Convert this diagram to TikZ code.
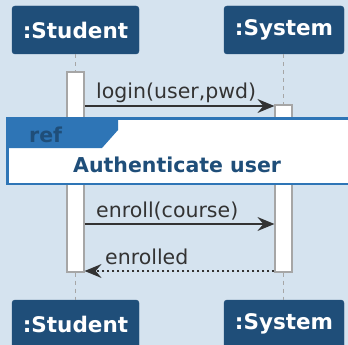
\documentclass[tikz,border=0pt]{standalone}
\usepackage{fontspec}
\setmainfont{DejaVu Sans}
\usetikzlibrary{arrows.meta}
\definecolor{bg}{HTML}{D5E3EF}
\definecolor{hdr}{HTML}{1F4E79}
\definecolor{tab}{HTML}{2E75B6}
\definecolor{msg}{HTML}{333333}
\tikzset{
  hdrbox/.style={fill=hdr, draw=hdr, rounded corners=3pt, minimum width=127pt, minimum height=48pt, inner sep=0pt, text=white, font=\fontsize{21.5}{25}\selectfont\bfseries},
  actbox/.style={fill=white, draw=gray!70, line width=1.2pt, minimum width=17pt, inner sep=0pt},
  life/.style={draw=gray!70, dashed, dash pattern=on 4pt off 4pt, line width=0.8pt},
  msgline/.style={draw=msg, line width=1.5pt, -{Stealth[length=17pt,width=14pt,inset=6pt]}},
  retline/.style={msgline, dash pattern=on 2.5pt off 2.5pt},
  msglbl/.style={text=msg, font=\fontsize{20.5}{24}\selectfont, inner sep=0pt, anchor=base west}
}
\begin{document}
\begin{tikzpicture}[x=1pt,y=-1pt]
\fill[bg] (0,0) rectangle (348,345);
\useasboundingbox (0,0) rectangle (348,345);
% headers
\node[hdrbox] (st) at (75.5,30) {:Student};
\node[hdrbox, minimum width=120pt] (sy) at (284,30) {:System};
\node[hdrbox] (sb) at (75.5,324) {:Student};
\node[hdrbox, minimum width=120pt] (yb) at (284,324) {:System};
% activations
\node[actbox, minimum height=200pt] (sa) at (75.5,172) {};
\node[actbox, minimum height=167pt] (ya) at (283.5,188.5) {};
% lifelines
\draw[life] (st.south -| sa) -- (sa.north);
\draw[life] (sa.south) -- (sb.north -| sa);
\draw[life] (sy.south -| ya) -- (ya.north);
\draw[life] (ya.south) -- (yb.north -| ya);
% messages
\coordinate (m1) at (0,106);
\coordinate (m2) at (0,224);
\coordinate (m3) at (0,271);
\draw[msgline] (sa.east |- m1) -- (ya.west |- m1);
\node[msglbl] (l1) at (96,98) {login(user,pwd)};
\draw[msgline] (sa.east |- m2) -- (ya.west |- m2);
\node[msglbl] (l2) at (96,217) {enroll(course)};
\draw[retline] (ya.west |- m3) -- (sa.east |- m3);
\node[msglbl] (l3) at (105,264) {enrolled};
% ref frame
\node[draw=tab, fill=white, line width=1.5pt, minimum width=345pt, minimum height=65pt, anchor=north west, inner sep=0pt] (ref) at (7,118) {};
\fill[tab] (7,118) -- (118,118) -- (118,130) -- (102,148) -- (7,148) -- cycle;
\draw[tab, line width=1.5pt] (ref.north west) rectangle (ref.south east);
\node[text=hdr, font=\fontsize{20.5}{24}\selectfont\bfseries, inner sep=0pt, anchor=base west] (rt) at (29,142) {ref};
\node[text=hdr, font=\fontsize{20.5}{24}\selectfont\bfseries, inner sep=0pt, anchor=base west] (au) at (73,172) {Authenticate user};
\end{tikzpicture}
\end{document}
